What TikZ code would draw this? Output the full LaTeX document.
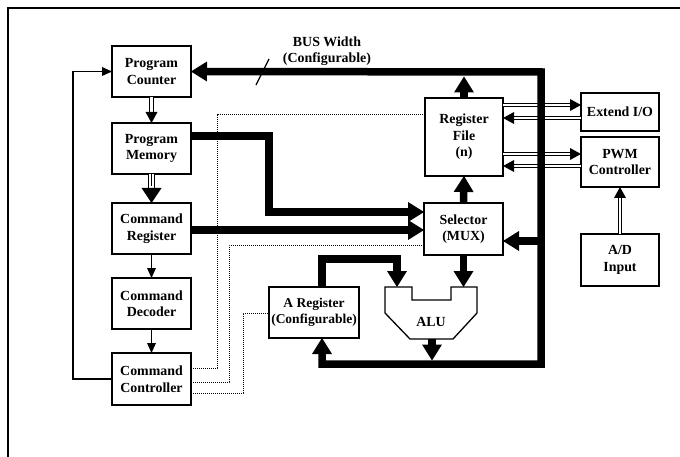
\documentclass[tikz,border=0pt]{standalone}
\usepackage{fontspec}
\setmainfont{Liberation Serif}
\usetikzlibrary{arrows.meta,calc}
\begin{document}
\begin{tikzpicture}[x=1pt,y=-1pt,
  box/.style={draw, line width=1.3pt, inner sep=0pt, outer sep=0pt, align=center,
    font=\fontsize{13.9}{16.5}\selectfont\bfseries},
  lbl/.style={inner sep=0pt, align=center, font=\fontsize{13.9}{16.5}\selectfont\bfseries},
  thinarrow/.style={line width=1.3pt, -{Triangle[length=10pt,width=9pt,line width=0pt]}},
  busline/.style={line width=7.5pt},
  bigtip/.style={-{Triangle[length=16pt,width=20pt,line width=0pt]}},
  bigtipboth/.style={{Triangle[length=16pt,width=20pt,line width=0pt]}-{Triangle[length=16pt,width=20pt,line width=0pt]}},
  dbl/.style={double, double distance=2.2pt, line width=1.1pt, -{Triangle[length=11pt,width=12pt,line width=0pt]}},
  ctrl/.style={line width=1pt, dash pattern=on 1.3pt off 0.7pt}
]
\useasboundingbox (0,0) rectangle (680,457);
% frame
\draw[line width=1.2pt] (8,457) -- (8,8) -- (680,8);

% boxes
\node[box, minimum width=79pt, minimum height=51pt] (pc)  at (151.5,71.5) {Program\\Counter};
\node[box, minimum width=79pt, minimum height=51pt] (pm)  at (151.5,148.5) {Program\\Memory};
\node[box, minimum width=79pt, minimum height=51pt] (cr)  at (151.5,228.5) {Command\\Register};
\node[box, minimum width=79pt, minimum height=51pt] (cd)  at (151.5,303.5) {Command\\Decoder};
\node[box, minimum width=79pt, minimum height=52pt] (cc)  at (151.5,379) {Command\\Controller};
\node[box, minimum width=78pt, minimum height=78pt] (rf)  at (464,137) {Register\\File\\(n)};
\node[box, minimum width=79pt, minimum height=52pt] (sel) at (463.5,229) {Selector\\(MUX)};
\node[box, minimum width=90pt, minimum height=51pt, font=\fontsize{13.5}{16.5}\selectfont\bfseries] (areg) at (314,312.5) {A Register\\(Configurable)};
\node[box, minimum width=78pt, minimum height=38pt] (eio) at (620,112) {Extend I/O};
\node[box, minimum width=78pt, minimum height=50pt] (pwm) at (620,162) {PWM\\Controller};
\node[box, minimum width=78pt, minimum height=52pt] (ad)  at (620,260) {A/D\\Input};

% ALU shape
\draw[line width=1.3pt] (385,287) -- (412,287) -- (412,300) -- (451,300) -- (451,287) -- (477,287)
  -- (477,313) -- (453,339) -- (410,339) -- (385,313) -- cycle;
\node[lbl] (alu) at (431,322) {ALU};
\coordinate (aluL) at (397,287);
\coordinate (aluR) at (463.5,287);
\coordinate (aluB) at (432,339);

% bus label
\node[lbl] (buslbl) at (327,51) {BUS Width\\(Configurable)};
\coordinate (sl1) at (269,59);
\coordinate (sl2) at (256,85);
\draw[line width=1.2pt] (sl1) -- (sl2);

% control (dotted) lines
\coordinate (d1) at (217,115);
\coordinate (d2) at (229,246);
\coordinate (d3) at (243,313);
\path (cc.east) ++(0,-11) coordinate (c1) (cc.east) ++(0,3) coordinate (c2) (cc.east) ++(0,14) coordinate (c3);
\draw[ctrl] (c1) -| (d1) -- (d1 -| rf.west);
\draw[ctrl] (c2) -| (d2) -- (d2 -| sel.west);
\draw[ctrl] (c3) -| (d3) -- (d3 -| areg.west);

% left feedback
\coordinate (fb) at (73,71.5);
\draw[thinarrow] (cc.west) -| (fb) -- (pc.west);

% vertical chain
\draw[dbl] (pc.south) -- (pm.north);
\draw[double, double distance=4.2pt, line width=1.1pt, -{Triangle[length=15pt,width=20pt,line width=0pt]}] (pm.south) -- (cr.north);
\draw[line width=1.1pt] (pm.south) -- ++(0,12);
\draw[thinarrow] (cr.south) -- (cd.north);
\draw[thinarrow] (cd.south) -- (cc.north);

% RF <-> I/O, PWM
\coordinate (io1) at (0,105);
\coordinate (io2) at (0,118);
\coordinate (io3) at (0,154);
\coordinate (io4) at (0,166);
\draw[dbl] (rf.east |- io1) -- (eio.west |- io1);
\draw[dbl] (eio.west |- io2) -- (rf.east |- io2);
\draw[dbl] (rf.east |- io3) -- (pwm.west |- io3);
\draw[dbl] (pwm.west |- io4) -- (rf.east |- io4);
\draw[dbl] (ad.north) -- (pwm.south);

% main bus
\coordinate (busTR) at (541,72);
\coordinate (busBR) at (541,364);
\coordinate (busBL) at (322,364);
\draw[busline, bigtipboth] (areg.south -| busBL) -- (busBL) -- (busBR) -- (busTR) -- (pc.east);

% thick arrows
\coordinate (rftop) at (464,76.5);
\draw[busline, bigtip] (rf.north) -- (rftop);
\draw[busline, bigtip] (sel.north) -- (rf.south);
\draw[busline, bigtip] (sel.south -| aluR) -- (aluR);
\coordinate (busin) at (541,241);
\draw[busline, bigtip] (busin) -- (busin -| sel.east);
\coordinate (busALU) at (432,360.5);
\draw[busline, bigtip] (aluB) -- (busALU);

% A register -> ALU
\coordinate (ak) at (397,259);
\draw[busline, bigtip] (areg.north -| busBL) |- (ak) -- (aluL);

% program memory -> selector
\path (pm.east) ++(0,-12.5) coordinate (pmo);
\coordinate (pmk) at (269,212);
\draw[busline, bigtip] (pmo) -| (pmk) -- (pmk -| sel.west);

% command register -> selector
\path (cr.east) ++(0,1.5) coordinate (cro);
\draw[busline, bigtip] (cro) -- (cro -| sel.west);
\end{tikzpicture}
\end{document}
